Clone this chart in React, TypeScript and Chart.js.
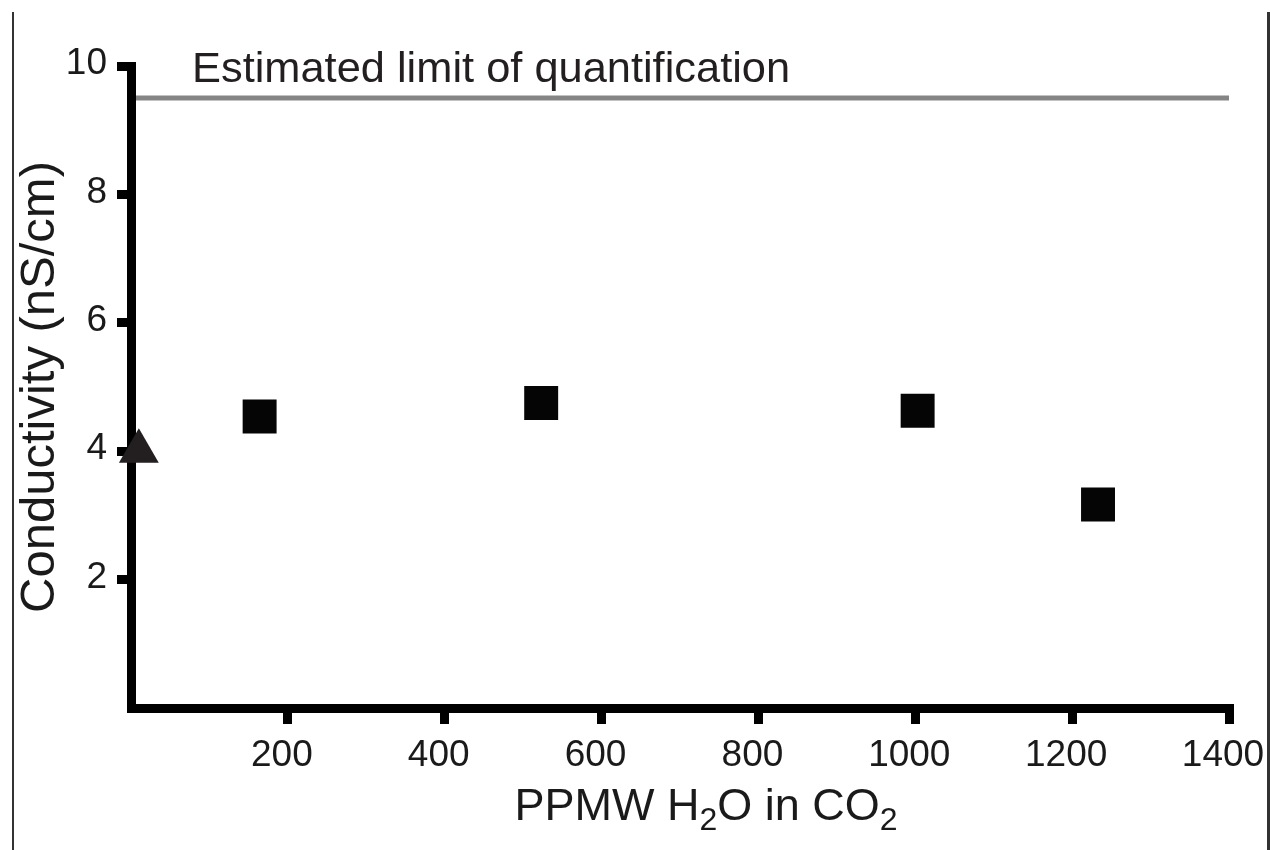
import React, { useEffect, useRef } from "react";
import { Chart, registerables } from "chart.js";

Chart.register(...registerables);

// ---- data ----
const squareX: number[] = [164, 523, 1003, 1233];
const squareY: number[] = [4.54, 4.75, 4.63, 3.17];
const triangleX: number[] = [10];
const triangleY: number[] = [4.0];
const limitValue = 9.5;
const limitLabel = "Estimated limit of quantification";
const xTicks: number[] = [0, 200, 400, 600, 800, 1000, 1200, 1400];
const yTicks: number[] = [0, 2, 4, 6, 8, 10];
const yTitle = "Conductivity (nS/cm)";
const xTitleParts: { text: string; sub: boolean }[] = [
  { text: "PPMW H", sub: false },
  { text: "2", sub: true },
  { text: "O in CO", sub: false },
  { text: "2", sub: true },
];

const FONT = "'Liberation Sans', Arial, Helvetica, sans-serif";
const TEXT = "#1a1a1a";

const overlayPlugin = {
  id: "overlay",
  afterDraw(chart: any) {
    const { ctx, chartArea, scales } = chart;
    ctx.save();
    // figure frame lines
    ctx.fillStyle = "#333333";
    ctx.fillRect(12, 12, 2, 850);
    ctx.fillRect(1267, 12, 3, 850);

    // limit label
    ctx.fillStyle = "#231f20";
    ctx.font = `43.4px ${FONT}`;
    ctx.textBaseline = "alphabetic";
    ctx.textAlign = "left";
    const ly = scales.y.getPixelForValue(limitValue) - 16;
    ctx.fillText(limitLabel, chartArea.left + 61, ly);

    // x title with subscripts
    const mainFont = `45px ${FONT}`;
    const subFont = `32px ${FONT}`;
    let total = 0;
    for (const p of xTitleParts) {
      ctx.font = p.sub ? subFont : mainFont;
      total += ctx.measureText(p.text).width;
    }
    let x = (chartArea.left + chartArea.right) / 2 + 26 - total / 2;
    const baseY = 820;
    ctx.fillStyle = TEXT;
    for (const p of xTitleParts) {
      ctx.font = p.sub ? subFont : mainFont;
      ctx.fillText(p.text, x, p.sub ? baseY + 10 : baseY);
      x += ctx.measureText(p.text).width;
    }
    ctx.restore();
  },
};

export default function App() {
  const ref = useRef<HTMLCanvasElement | null>(null);
  useEffect(() => {
    if (!ref.current) return;
    const hideZero = (c: any) =>
      c.tick && c.tick.value === 0 ? "rgba(0,0,0,0)" : "#000000";
    const chart = new Chart(ref.current, {
      type: "scatter",
      data: {
        datasets: [
          {
            label: "Limit",
            type: "line",
            data: [
              { x: xTicks[0], y: limitValue },
              { x: xTicks[xTicks.length - 1], y: limitValue },
            ],
            borderColor: "#858585",
            borderWidth: 5,
            pointRadius: 0,
            clip: { left: -5, top: 0, right: 0, bottom: 0 } as any,
            order: 3,
          } as any,
          {
            label: "Dry",
            data: triangleX.map((x, i) => ({ x, y: triangleY[i] })),
            pointStyle: "triangle",
            pointRadius: 23,
            backgroundColor: "#231f20",
            borderColor: "#231f20",
            borderWidth: 0,
            clip: false as any,
            order: 1,
          },
          {
            label: "Wet",
            data: squareX.map((x, i) => ({ x, y: squareY[i] })),
            pointStyle: "rect",
            pointRadius: 24,
            backgroundColor: "#050505",
            borderColor: "#050505",
            borderWidth: 0,
            clip: false as any,
            order: 2,
          },
        ],
      },
      options: {
        responsive: false,
        animation: false,
        layout: { padding: { left: 0, right: 41, top: 66, bottom: 0 } },
        plugins: { legend: { display: false }, tooltip: { enabled: false } },
        scales: {
          x: {
            type: "linear",
            min: xTicks[0],
            max: xTicks[xTicks.length - 1],
            afterFit: (s: any) => {
              s.height = 142;
              s.paddingLeft = 0;
              s.paddingRight = 0;
            },
            afterBuildTicks: (s: any) => {
              s.ticks = xTicks.map((v) => ({ value: v }));
            },
            ticks: {
              callback: (v: any) => (v === 0 ? "" : String(v)),
              font: { family: FONT, size: 37 },
              color: TEXT,
              padding: 10,
              labelOffset: -6,
              maxRotation: 0,
              autoSkip: false,
            },
            grid: {
              drawOnChartArea: false,
              drawTicks: true,
              tickLength: 16,
              tickWidth: 9,
              tickColor: hideZero,
              lineWidth: 9,
            },
            border: { display: true, width: 9, color: "#000000" },
            title: { display: false },
          },
          y: {
            type: "linear",
            min: yTicks[0],
            max: yTicks[yTicks.length - 1],
            afterFit: (s: any) => {
              s.width = 131;
              s.paddingTop = 0;
              s.paddingBottom = 0;
            },
            afterBuildTicks: (s: any) => {
              s.ticks = yTicks.map((v) => ({ value: v }));
            },
            ticks: {
              callback: (v: any) => (v === 0 ? "" : String(v)),
              font: { family: FONT, size: 37 },
              color: TEXT,
              padding: 10,
              labelOffset: -2,
              autoSkip: false,
            },
            grid: {
              drawOnChartArea: false,
              drawTicks: true,
              tickLength: 14,
              tickWidth: 9,
              tickColor: hideZero,
              lineWidth: 9,
            },
            border: { display: true, width: 9, color: "#000000" },
            title: {
              display: true,
              text: yTitle,
              font: { family: FONT, size: 49 },
              color: TEXT,
              padding: { top: 11, bottom: 0 },
            },
          },
        },
      },
      plugins: [overlayPlugin],
    });
    return () => chart.destroy();
  }, []);
  return (
    <div style={{ position: "absolute", left: 0, top: 0, width: 1270, height: 850, background: "#ffffff" }}>
      <canvas ref={ref} width={1270} height={850} style={{ display: "block" }} />
    </div>
  );
}
